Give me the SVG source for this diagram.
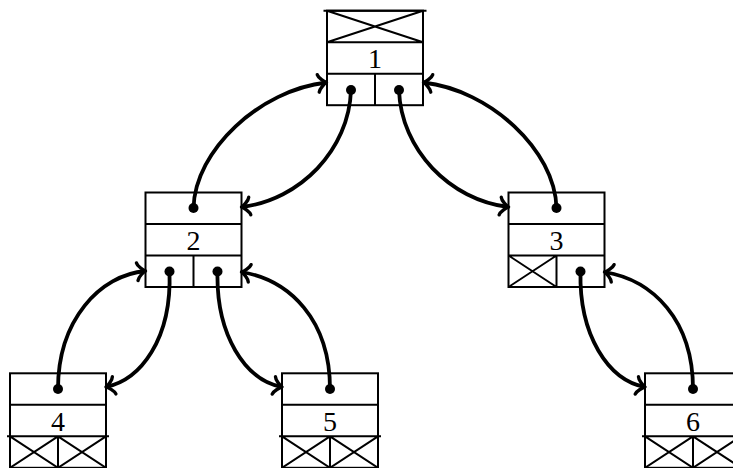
<svg xmlns="http://www.w3.org/2000/svg" width="733" height="468" viewBox="0 0 733 468">
  <style>
    .box { fill: #fff; stroke: #000; stroke-width: 2; }
    .ln { fill: none; stroke: #000; stroke-width: 2; stroke-linecap: butt; }
    .lbl { font-family: "Liberation Serif", "DejaVu Serif", serif; font-size: 28px; text-anchor: middle; fill: #000; }
    .link { fill: none; stroke: #000; stroke-width: 3.8; marker-end: url(#head); }
    .dot { fill: #000; }
  </style>
  <defs>
    <!-- curved "to"-style arrowhead -->
    <marker id="head" markerUnits="userSpaceOnUse" orient="auto" refX="0" refY="0" markerWidth="20" markerHeight="20" overflow="visible">
      <path d="M -8.3,-8.8 C -7.7,-5.5 -1.7,-0.55 0,0 C -1.7,0.55 -7.7,5.5 -8.3,8.8" fill="none" stroke="#000" stroke-width="3.4" stroke-linecap="round" stroke-linejoin="round"/>
    </marker>
  </defs>

  <!-- node 1: nil parent pointer on top, two child pointers below -->
  <g id="node1">
    <rect class="box" x="327" y="10.7" width="96" height="94.5"/>
    <path class="ln" d="M323.5,10.7 H426.5 M327,42.2 H423 M327,73.7 H423 M375,73.7 V105.2 M327,10.7 L423,42.2 M423,10.7 L327,42.2"/>
    <text class="lbl" x="375" y="68">1</text>
  </g>

  <g id="node2">
    <rect class="box" x="145.5" y="192.5" width="96" height="94.5"/>
    <path class="ln" d="M145.5,224 H241.5 M145.5,255.5 H241.5 M193.5,255.5 V287"/>
    <text class="lbl" x="193.5" y="249.6">2</text>
  </g>

  <g id="node3">
    <rect class="box" x="508.5" y="192.5" width="96" height="94.5"/>
    <path class="ln" d="M508.5,224 H604.5 M508.5,255.5 H604.5 M556.5,255.5 V287 M508.5,255.5 L556.5,287 M556.5,255.5 L508.5,287"/>
    <text class="lbl" x="556.5" y="249.6">3</text>
  </g>

  <g id="node4">
    <rect class="box" x="10" y="373.3" width="96" height="94.5"/>
    <path class="ln" d="M10,404.8 H106 M7,436.3 H109 M58,436.3 V467.8 M10,436.3 L58,467.8 M58,436.3 L10,467.8 M58,436.3 L106,467.8 M106,436.3 L58,467.8"/>
    <text class="lbl" x="58" y="430.8">4</text>
  </g>

  <g id="node5">
    <rect class="box" x="282" y="373.3" width="96" height="94.5"/>
    <path class="ln" d="M282,404.8 H378 M279,436.3 H381 M330,436.3 V467.8 M282,436.3 L330,467.8 M330,436.3 L282,467.8 M330,436.3 L378,467.8 M378,436.3 L330,467.8"/>
    <text class="lbl" x="330" y="430.8">5</text>
  </g>

  <g id="node6">
    <rect class="box" x="645" y="373.3" width="96" height="94.5"/>
    <path class="ln" d="M645,404.8 H741 M642,436.3 H744 M693,436.3 V467.8 M645,436.3 L693,467.8 M693,436.3 L645,467.8 M693,436.3 L741,467.8 M741,436.3 L693,467.8"/>
    <text class="lbl" x="693" y="430.8">6</text>
  </g>

  <!-- pointer links: each starts at a dot and ends with an arrowhead -->
  <g id="links">
    <path class="link" d="M193.5,208 C195,150 260,90 326.5,82.5"/>
    <path class="link" d="M351,90 C349,150 300,200 241.5,207"/>
    <path class="link" d="M399,90 C401,150 450,200 508.5,207"/>
    <path class="link" d="M556.5,208 C555,150 490,90 423.5,82.5"/>
    <path class="link" d="M58,389 C58,320 100,275 145.5,271"/>
    <path class="link" d="M169.5,271.5 C172,340 140,380 106,387"/>
    <path class="link" d="M217.5,271.5 C216,335 245,380 282,387"/>
    <path class="link" d="M330,389 C330,320 290,280 241.5,272"/>
    <path class="link" d="M580.5,271.5 C579,335 608,380 645,387"/>
    <path class="link" d="M693,389 C693,320 653,280 604.5,272"/>
    <circle class="dot" cx="193.5" cy="208" r="5"/>
    <circle class="dot" cx="351" cy="90" r="5"/>
    <circle class="dot" cx="399" cy="90" r="5"/>
    <circle class="dot" cx="556.5" cy="208" r="5"/>
    <circle class="dot" cx="58" cy="389" r="5"/>
    <circle class="dot" cx="169.5" cy="271.5" r="5"/>
    <circle class="dot" cx="217.5" cy="271.5" r="5"/>
    <circle class="dot" cx="330" cy="389" r="5"/>
    <circle class="dot" cx="580.5" cy="271.5" r="5"/>
    <circle class="dot" cx="693" cy="389" r="5"/>
  </g>
</svg>
